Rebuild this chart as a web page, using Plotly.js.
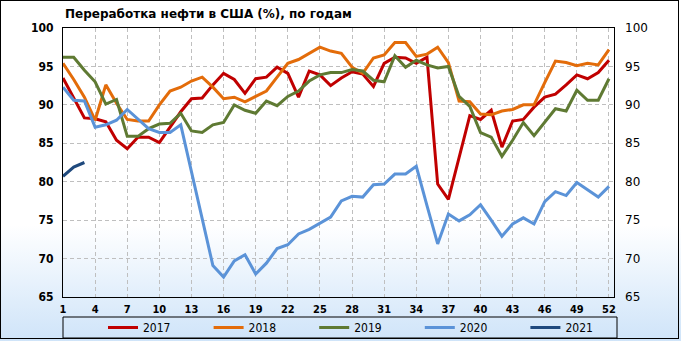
<!DOCTYPE html>
<html>
<head>
<meta charset="utf-8">
<script src="https://cdn.plot.ly/plotly-3.0.1.min.js"></script>
<style>
  html, body { margin: 0; padding: 0; background: #ffffff; }
  #wrap { position: relative; width: 681px; height: 341px; }
  #chart { position: absolute; left: 0; top: 0; width: 681px; height: 341px;
    background: linear-gradient(to bottom, #ffffff 0%, #ffffff 66%, #cfe4f9 100%); }
  #frame { position: absolute; left: 0; top: 0; width: 677px; height: 337px;
    border: 1px solid #000; pointer-events: none; }
</style>
</head>
<body>
<div id="wrap">
  <div id="chart"></div>
  <div id="frame"></div>
</div>
<script>
const weeks = [1,2,3,4,5,6,7,8,9,10,11,12,13,14,15,16,17,18,19,20,21,22,23,24,25,26,
  27,28,29,30,31,32,33,34,35,36,37,38,39,40,41,42,43,44,45,46,47,48,49,50,51,52];

const y2017 = [93.5,90.9,88.3,88.2,87.8,85.4,84.3,85.8,85.8,85.1,87.1,89.1,90.8,90.9,92.6,94.1,
  93.3,91.5,93.4,93.6,94.9,94.1,91.0,94.4,93.9,92.5,93.5,94.3,94.0,92.4,95.4,96.2,96.1,95.4,96.2,
  79.7,77.7,83.1,88.6,88.1,89.3,84.5,87.9,88.1,89.7,91.0,91.4,92.6,93.9,93.4,94.2,95.8];

const y2018 = [95.4,93.3,91.0,88.0,92.6,90.2,88.1,87.9,87.9,90.0,91.8,92.3,93.1,93.6,92.3,90.8,
  91.0,90.4,91.1,91.8,93.6,95.4,95.9,96.7,97.5,97.0,96.7,94.9,94.1,96.1,96.5,98.1,98.1,96.3,96.6,
  97.5,95.5,90.5,90.4,88.8,88.7,89.2,89.4,90.0,90.0,92.9,95.7,95.5,95.1,95.4,95.2,97.2];

const y2019 = [96.2,96.2,94.5,93.0,90.1,90.7,85.9,85.9,86.9,87.5,87.6,88.9,86.6,86.4,87.4,87.7,
  90.0,89.3,88.9,90.5,89.9,91.1,91.8,93.1,93.9,94.2,94.2,94.6,94.4,93.2,93.0,96.4,94.9,95.8,95.2,
  94.8,95.0,91.1,89.8,86.4,85.8,83.3,85.4,87.7,86.0,87.8,89.5,89.2,91.9,90.6,90.6,93.4];

const y2020 = [92.3,90.6,90.5,87.1,87.4,88.0,89.4,88.1,86.9,86.4,86.4,87.4,81.3,75.2,69.1,67.6,
  69.7,70.5,68.0,69.4,71.3,71.8,73.2,73.8,74.6,75.4,77.5,78.1,78.0,79.6,79.7,81.0,81.0,82.0,76.9,
  71.9,75.8,74.9,75.7,77.0,75.0,72.9,74.5,75.3,74.5,77.4,78.7,78.2,79.9,79.0,78.0,79.4];

const y2021 = [80.7,81.9,82.5];

const seriesNames = ['2017','2018','2019','2020','2021'];
const seriesColors = ['#c00000','#e36c0a','#5f7a33','#5b93d8','#1f497d'];
const seriesData = [y2017, y2018, y2019, y2020, y2021];

const xTickVals = [1,4,7,10,13,16,19,22,25,28,31,34,37,40,43,46,49,52];
const yTickVals = [65,70,75,80,85,90,95,100];
const titleText = 'Переработка нефти в США (%), по годам';

const traces = seriesData.map((vals, i) => ({
  type: 'scatter', mode: 'lines', name: seriesNames[i],
  x: weeks.slice(0, vals.length), y: vals,
  line: { color: seriesColors[i], width: 3 },
  hoverinfo: 'skip'
}));
traces.push({ type: 'scatter', mode: 'lines', x: [1], y: [65], yaxis: 'y2',
  showlegend: false, line: { color: 'rgba(0,0,0,0)' }, hoverinfo: 'skip' });

const W = 681, H = 341;
const L = 63, R = 67, T = 28, B = 44;
const pw = W - L - R, ph = H - T - B;
const px = v => (v - L) / pw;
const py = v => (H - B - v) / ph;

const layout = {
  width: W, height: H,
  margin: { l: L, r: R, t: T, b: B, pad: 0, autoexpand: false },
  paper_bgcolor: 'rgba(0,0,0,0)',
  plot_bgcolor: 'rgba(0,0,0,0)',
  title: {
    text: titleText, xref: 'container', yref: 'container',
    x: 65 / W, xanchor: 'left', y: 1 - 14 / H, yanchor: 'middle',
    font: { family: 'DejaVu Sans', size: 12, color: '#000', weight: 'bold' }
  },
  xaxis: {
    range: [1, 52.47], tickmode: 'array', tickvals: xTickVals,
    ticktext: xTickVals.map(String), automargin: false,
    showgrid: true, gridcolor: '#bfbfbf', griddash: '4px,3px', gridwidth: 1,
    zeroline: false, showline: true, mirror: true, linecolor: '#000', linewidth: 1,
    ticks: '', ticklabelstandoff: 2,
    tickfont: { family: 'DejaVu Sans Condensed', size: 11, color: '#000', weight: 'bold' }
  },
  yaxis: {
    range: [65, 100], tickmode: 'array', tickvals: yTickVals, automargin: false,
    showgrid: true, gridcolor: '#bfbfbf', griddash: '4px,3px', gridwidth: 1,
    zeroline: false, showline: true, mirror: true, linecolor: '#000', linewidth: 1,
    ticks: '', ticklabelstandoff: 6,
    tickfont: { family: 'DejaVu Sans Condensed', size: 12, color: '#000', weight: 'bold' }
  },
  yaxis2: {
    range: [65, 100], tickmode: 'array', tickvals: yTickVals, overlaying: 'y', side: 'right',
    automargin: false,
    showgrid: false, zeroline: false, showline: false, ticks: '', ticklabelstandoff: 10,
    tickfont: { family: 'DejaVu Sans', size: 12, color: '#000' }
  },
  showlegend: true,
  legend: {
    orientation: 'h', x: px(103), xanchor: 'left', y: py(327.5), yanchor: 'middle',
    bgcolor: 'rgba(0,0,0,0)', borderwidth: 0, entrywidth: 60.6, entrywidthmode: 'pixels',
    font: { family: 'DejaVu Sans Condensed', size: 12, color: '#000' },
    traceorder: 'normal'
  },
  shapes: [{
    type: 'rect', xref: 'paper', yref: 'paper',
    x0: px(63), x1: px(617), y0: py(338), y1: py(317),
    line: { color: '#000', width: 1 }, fillcolor: 'rgba(0,0,0,0)', layer: 'below'
  }]
};

Plotly.newPlot('chart', traces, layout, { displayModeBar: false, staticPlot: true });
</script>
</body>
</html>
